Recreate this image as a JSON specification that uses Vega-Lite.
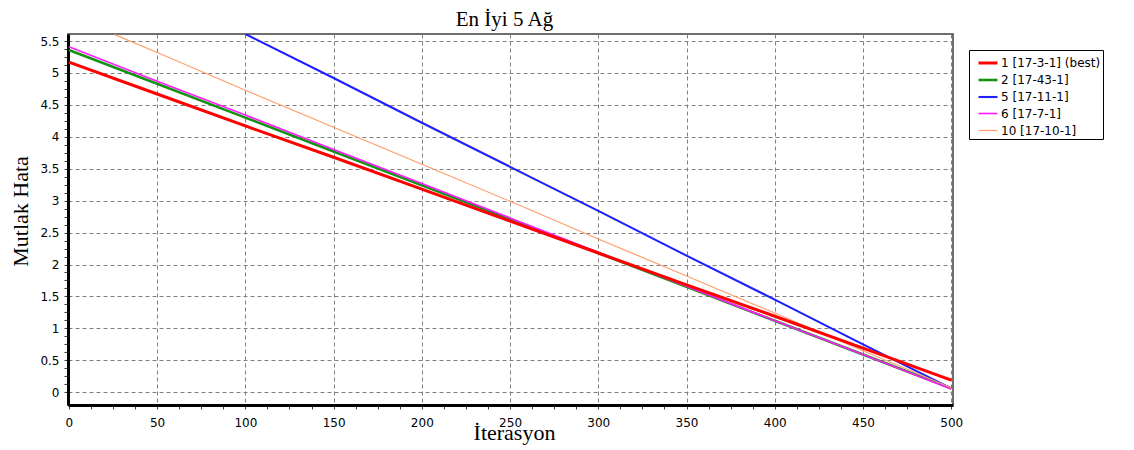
{
  "$schema": "https://vega.github.io/schema/vega-lite/v6.json",
  "width": 885,
  "height": 371,
  "autosize": "none",
  "padding": {"left": 68, "top": 34, "right": 181, "bottom": 45},
  "background": "white",
  "title": {
    "text": "En İyi 5 Ağ",
    "font": "Liberation Serif",
    "fontSize": 21,
    "fontWeight": "normal",
    "color": "#000000",
    "anchor": "middle",
    "dx": -6,
    "offset": -17,
    "baseline": "bottom"
  },
  "config": {
    "view": {"stroke": "#404040", "strokeWidth": 1.5}
  },
  "layer": [
    {
      "data": {
        "values": [
          {"series": "2 [17-43-1]", "it": 0, "err": 5.36},
          {"series": "2 [17-43-1]", "it": 50, "err": 4.83},
          {"series": "2 [17-43-1]", "it": 100, "err": 4.30},
          {"series": "2 [17-43-1]", "it": 150, "err": 3.77},
          {"series": "2 [17-43-1]", "it": 200, "err": 3.24},
          {"series": "2 [17-43-1]", "it": 250, "err": 2.71},
          {"series": "2 [17-43-1]", "it": 300, "err": 2.18},
          {"series": "2 [17-43-1]", "it": 350, "err": 1.65},
          {"series": "2 [17-43-1]", "it": 400, "err": 1.12},
          {"series": "2 [17-43-1]", "it": 450, "err": 0.59},
          {"series": "2 [17-43-1]", "it": 500, "err": 0.06},
          {"series": "5 [17-11-1]", "it": 100, "err": 5.61},
          {"series": "5 [17-11-1]", "it": 150, "err": 4.92},
          {"series": "5 [17-11-1]", "it": 200, "err": 4.22},
          {"series": "5 [17-11-1]", "it": 250, "err": 3.53},
          {"series": "5 [17-11-1]", "it": 300, "err": 2.84},
          {"series": "5 [17-11-1]", "it": 350, "err": 2.14},
          {"series": "5 [17-11-1]", "it": 400, "err": 1.45},
          {"series": "5 [17-11-1]", "it": 450, "err": 0.75},
          {"series": "5 [17-11-1]", "it": 500, "err": 0.06},
          {"series": "6 [17-7-1]", "it": 0, "err": 5.41},
          {"series": "6 [17-7-1]", "it": 50, "err": 4.87},
          {"series": "6 [17-7-1]", "it": 100, "err": 4.34},
          {"series": "6 [17-7-1]", "it": 150, "err": 3.80},
          {"series": "6 [17-7-1]", "it": 200, "err": 3.27},
          {"series": "6 [17-7-1]", "it": 250, "err": 2.73},
          {"series": "6 [17-7-1]", "it": 300, "err": 2.19},
          {"series": "6 [17-7-1]", "it": 350, "err": 1.66},
          {"series": "6 [17-7-1]", "it": 400, "err": 1.12},
          {"series": "6 [17-7-1]", "it": 450, "err": 0.59},
          {"series": "6 [17-7-1]", "it": 500, "err": 0.05},
          {"series": "10 [17-10-1]", "it": 26, "err": 5.60},
          {"series": "10 [17-10-1]", "it": 50, "err": 5.32},
          {"series": "10 [17-10-1]", "it": 100, "err": 4.73},
          {"series": "10 [17-10-1]", "it": 150, "err": 4.15},
          {"series": "10 [17-10-1]", "it": 200, "err": 3.57},
          {"series": "10 [17-10-1]", "it": 250, "err": 2.99},
          {"series": "10 [17-10-1]", "it": 300, "err": 2.40},
          {"series": "10 [17-10-1]", "it": 350, "err": 1.82},
          {"series": "10 [17-10-1]", "it": 400, "err": 1.24},
          {"series": "10 [17-10-1]", "it": 450, "err": 0.65},
          {"series": "10 [17-10-1]", "it": 500, "err": 0.07},
          {"series": "1 [17-3-1] (best)", "it": 0, "err": 5.17},
          {"series": "1 [17-3-1] (best)", "it": 50, "err": 4.67},
          {"series": "1 [17-3-1] (best)", "it": 100, "err": 4.17},
          {"series": "1 [17-3-1] (best)", "it": 150, "err": 3.68},
          {"series": "1 [17-3-1] (best)", "it": 200, "err": 3.18},
          {"series": "1 [17-3-1] (best)", "it": 250, "err": 2.68},
          {"series": "1 [17-3-1] (best)", "it": 300, "err": 2.18},
          {"series": "1 [17-3-1] (best)", "it": 350, "err": 1.68},
          {"series": "1 [17-3-1] (best)", "it": 400, "err": 1.19},
          {"series": "1 [17-3-1] (best)", "it": 450, "err": 0.69},
          {"series": "1 [17-3-1] (best)", "it": 500, "err": 0.19}
        ]
      },
      "mark": {"type": "line", "clip": true},
      "encoding": {
        "x": {
          "field": "it",
          "type": "quantitative",
          "scale": {"domain": [-0.5, 501], "nice": false, "zero": false},
          "axis": {
            "values": [0,12.5,25,37.5,50,62.5,75,87.5,100,112.5,125,137.5,150,162.5,175,187.5,200,212.5,225,237.5,250,262.5,275,287.5,300,312.5,325,337.5,350,362.5,375,387.5,400,412.5,425,437.5,450,462.5,475,487.5,500],
            "labelExpr": "datum.value % 50 === 0 ? datum.label : ''",
            "labelFlush": false,
            "labelOverlap": false,
            "labelFont": "DejaVu Sans",
            "labelFontSize": 12,
            "labelColor": "#000000",
            "labelPadding": 8,
            "domainColor": "#000000",
            "domainWidth": 3,
            "grid": true,
            "gridColor": "#808080",
            "gridDash": [4, 3],
            "gridWidth": 1,
            "gridOpacity": {"condition": {"test": "datum.value % 50 === 0", "value": 1}, "value": 0},
            "tickColor": "#404040",
            "tickSize": 4,
            "title": "İterasyon",
            "titleFont": "Liberation Serif",
            "titleFontSize": 22,
            "titleFontWeight": "normal",
            "titleColor": "#000000",
            "titleX": 446,
            "titleY": 34,
            "titleBaseline": "alphabetic",
            "titleAlign": "center"
          }
        },
        "y": {
          "field": "err",
          "type": "quantitative",
          "scale": {"domain": [-0.2, 5.61], "nice": false, "zero": false},
          "axis": {
            "values": [0,0.125,0.25,0.375,0.5,0.625,0.75,0.875,1,1.125,1.25,1.375,1.5,1.625,1.75,1.875,2,2.125,2.25,2.375,2.5,2.625,2.75,2.875,3,3.125,3.25,3.375,3.5,3.625,3.75,3.875,4,4.125,4.25,4.375,4.5,4.625,4.75,4.875,5,5.125,5.25,5.375,5.5],
            "format": "~g",
            "labelExpr": "datum.value % 0.5 === 0 ? datum.label : ''",
            "labelOverlap": false,
            "labelFlush": false,
            "labelFont": "DejaVu Sans",
            "labelFontSize": 12,
            "labelColor": "#000000",
            "labelPadding": 5,
            "domainColor": "#000000",
            "domainWidth": 3,
            "grid": true,
            "gridColor": "#808080",
            "gridDash": [4, 3],
            "gridWidth": 1,
            "gridOpacity": {"condition": {"test": "datum.value % 0.5 === 0", "value": 1}, "value": 0},
            "tickColor": "#404040",
            "tickSize": 4,
            "title": "Mutlak Hata",
            "titleFont": "Liberation Serif",
            "titleFontSize": 22,
            "titleFontWeight": "normal",
            "titleColor": "#000000",
            "titleX": -48,
            "titleY": 177,
            "titleAngle": 270,
            "titleAlign": "center",
            "titleBaseline": "middle"
          }
        },
        "color": {
          "field": "series",
          "type": "nominal",
          "scale": {
            "domain": ["1 [17-3-1] (best)", "2 [17-43-1]", "5 [17-11-1]", "6 [17-7-1]", "10 [17-10-1]"],
            "range": ["#ff0000", "#129412", "#1f1fff", "#ff1aff", "#ff9e6b"]
          },
          "legend": {
            "title": null,
            "orient": "none",
            "legendX": 901,
            "legendY": 16,
            "fillColor": "#ffffff",
            "strokeColor": "#000000",
            "padding": 2,
            "cornerRadius": 0,
            "symbolType": "stroke",
            "symbolSize": 361,
            "symbolOffset": 6,
            "labelFont": "DejaVu Sans",
            "labelFontSize": 12,
            "labelColor": "#000000",
            "labelOffset": 2,
            "rowPadding": -1
          }
        },
        "strokeWidth": {
          "field": "series",
          "type": "nominal",
          "scale": {
            "domain": ["1 [17-3-1] (best)", "2 [17-43-1]", "5 [17-11-1]", "6 [17-7-1]", "10 [17-10-1]"],
            "range": [3, 1.2, 1.2, 1.2, 1.2]
          },
          "legend": {
            "title": null,
            "orient": "none",
            "legendX": 901,
            "legendY": 16,
            "fillColor": "#ffffff",
            "strokeColor": "#000000",
            "padding": 2,
            "cornerRadius": 0,
            "symbolType": "stroke",
            "symbolSize": 361,
            "symbolOffset": 6,
            "labelFont": "DejaVu Sans",
            "labelFontSize": 12,
            "labelColor": "#000000",
            "labelOffset": 2,
            "rowPadding": -1
          }
        }
      }
    }
  ]
}
